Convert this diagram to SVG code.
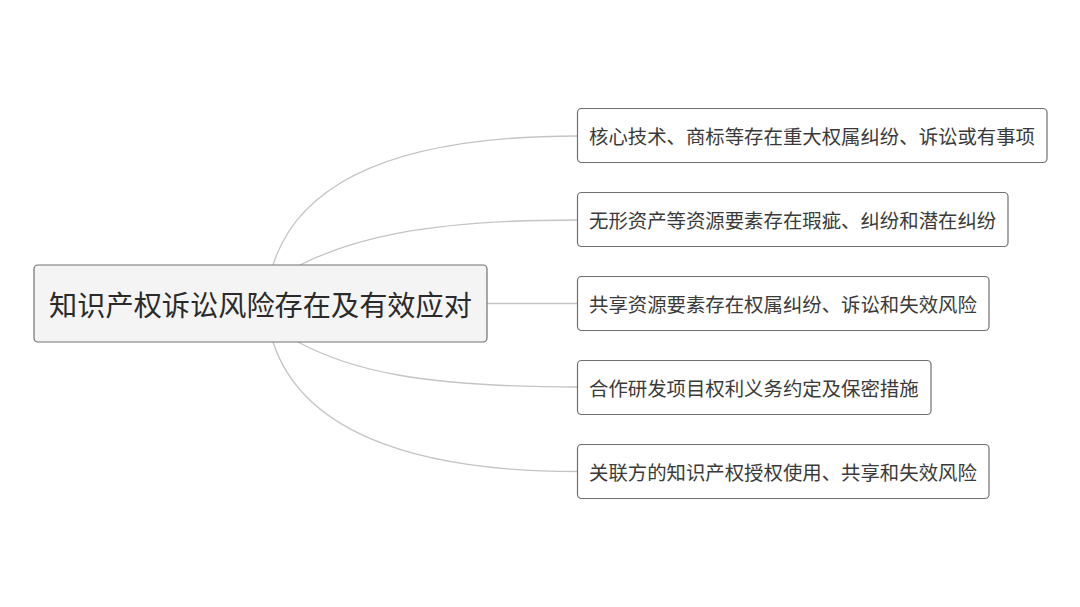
<svg xmlns="http://www.w3.org/2000/svg" width="1080" height="607" viewBox="0 0 1080 607">
<style>
.box{fill:#ffffff;stroke:#707070;stroke-width:1.2}
.root{fill:#f4f4f4;stroke:#707070;stroke-width:1.2}
.t{font-family:"Noto Sans CJK SC","Noto Sans",sans-serif;fill:#3a3a3a;dominant-baseline:central}
.c{font-size:19.4px}
.r{font-size:28.2px;fill:#2a2a2a}
.link{fill:none;stroke:#c4c4c4;stroke-width:1.3}
</style>
<rect width="1080" height="607" fill="#ffffff"/>
<g id="connectors">
<path class="link" d="M273,265 C300,180 400,136 577,136"/>
<path class="link" d="M300,265 C350,240 420,220 577,220"/>
<path class="link" d="M487,303.5 L577,303.5"/>
<path class="link" d="M298,342 C350,370 420,387 577,387"/>
<path class="link" d="M273,342 C300,425 400,471.5 577,471.5"/>
</g>
<g id="root">
<rect class="root" x="34" y="265" width="453" height="77" rx="4"/>
<text class="t r" x="260.5" y="303.5" text-anchor="middle">知识产权诉讼风险存在及有效应对</text>
</g>
<g id="n1">
<rect class="box" x="577.5" y="108.5" width="469.5" height="54" rx="4"/>
<text class="t c" x="589" y="135.5">核心技术、商标等存在重大权属纠纷、诉讼或有事项</text>
</g>
<g id="n2">
<rect class="box" x="577.5" y="192.5" width="430.5" height="54" rx="4"/>
<text class="t c" x="589" y="219.5">无形资产等资源要素存在瑕疵、纠纷和潜在纠纷</text>
</g>
<g id="n3">
<rect class="box" x="577.5" y="276.5" width="411.5" height="54" rx="4"/>
<text class="t c" x="589" y="303.5">共享资源要素存在权属纠纷、诉讼和失效风险</text>
</g>
<g id="n4">
<rect class="box" x="577.5" y="360.5" width="353.5" height="54" rx="4"/>
<text class="t c" x="589" y="387.5">合作研发项目权利义务约定及保密措施</text>
</g>
<g id="n5">
<rect class="box" x="577.5" y="444.5" width="411.5" height="54" rx="4"/>
<text class="t c" x="589" y="471.5">关联方的知识产权授权使用、共享和失效风险</text>
</g>
</svg>
